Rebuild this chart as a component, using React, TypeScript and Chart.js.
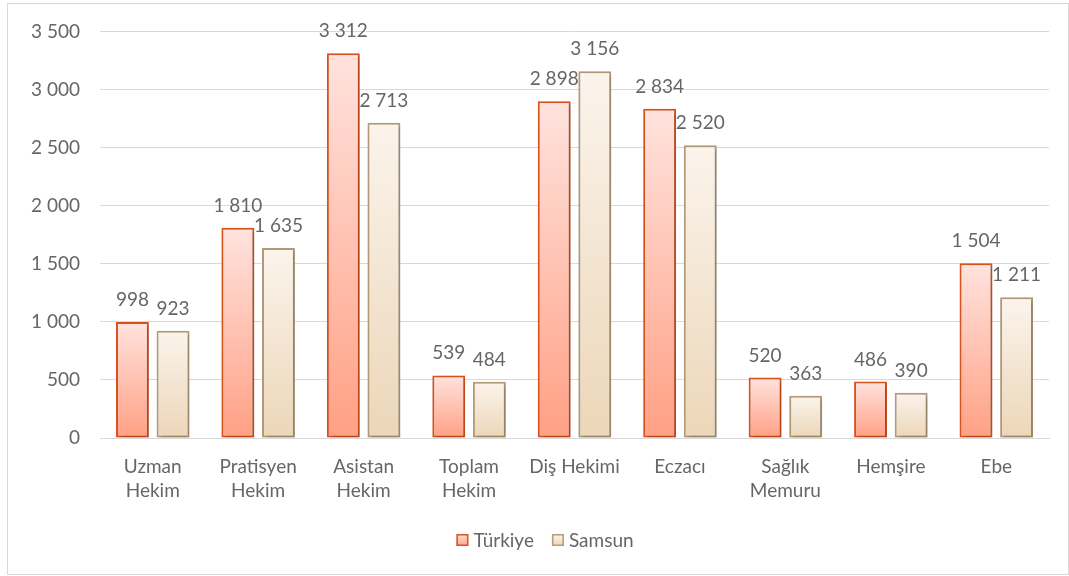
import React, { useEffect, useRef } from "react";
import { Chart, registerables } from "chart.js";

Chart.register(...registerables);

const categories: (string | string[])[] = [
  ["Uzman", "Hekim"],
  ["Pratisyen", "Hekim"],
  ["Asistan", "Hekim"],
  ["Toplam", "Hekim"],
  "Diş Hekimi",
  "Eczacı",
  ["Sağlık", "Memuru"],
  "Hemşire",
  "Ebe",
];
const turkiye = [998, 1810, 3312, 539, 2898, 2834, 520, 486, 1504];
const samsun = [923, 1635, 2713, 484, 3156, 2520, 363, 390, 1211];
const seriesNames = ["Türkiye", "Samsun"];
const yTicks = { min: 0, max: 3500, step: 500 };

const FONT = "Lato, 'Open Sans', sans-serif";
const TEXT = "#666666";
const GRID = "#D9D9D9";

const styles = [
  { top: "#FFE3DE", bottom: "#FFA084", border: "#D9531E" },
  { top: "#FBF4EC", bottom: "#ECD6B8", border: "#B49C7A" },
];

const fmt = (v: number) => String(v).replace(/\B(?=(\d{3})+(?!\d))/g, " ");

function barGradient(ctx: any, idx: number) {
  const chart = ctx.chart;
  const y = chart.scales?.y;
  const st = styles[idx];
  if (!y || ctx.parsed == null) return st.bottom;
  const top = y.getPixelForValue(ctx.parsed.y);
  const bot = y.getPixelForValue(0);
  if (!isFinite(top) || !isFinite(bot) || top === bot) return st.bottom;
  const g = chart.ctx.createLinearGradient(0, top, 0, bot);
  g.addColorStop(0, st.top);
  g.addColorStop(1, st.bottom);
  return g;
}

const frame = {
  id: "frame",
  beforeDraw(chart: any) {
    const c = chart.ctx;
    c.save();
    c.fillStyle = "#FFFFFF";
    c.fillRect(0, 0, chart.width, chart.height);
    c.strokeStyle = GRID;
    c.lineWidth = 1;
    c.strokeRect(7.5, 3.5, chart.width - 8, chart.height - 5);
    c.restore();
  },
};

const shadow = {
  id: "barShadow",
  beforeDatasetsDraw(chart: any) {
    const c = chart.ctx;
    c.save();
    c.shadowColor = "rgba(0,0,0,0.22)";
    c.shadowBlur = 4;
    c.shadowOffsetX = 2;
    c.shadowOffsetY = 2;
  },
  afterDatasetsDraw(chart: any) {
    chart.ctx.restore();
  },
};

const labels = {
  id: "valueLabels",
  afterDraw(chart: any) {
    const c = chart.ctx;
    c.save();
    c.font = `19px ${FONT}`;
    c.fillStyle = TEXT;
    c.textAlign = "center";
    c.textBaseline = "alphabetic";
    chart.data.datasets.forEach((ds: any, di: number) => {
      const meta = chart.getDatasetMeta(di);
      meta.data.forEach((el: any, i: number) => {
        c.fillText(fmt(ds.data[i]), el.x, el.y - 16);
      });
    });
    c.restore();
  },
};

const legend = {
  id: "customLegend",
  afterDraw(chart: any) {
    const c = chart.ctx;
    c.save();
    c.font = `19px ${FONT}`;
    c.textBaseline = "middle";
    c.textAlign = "left";
    const box = 12;
    const gapText = 5;
    const gapItem = 18;
    const widths = seriesNames.map((n) => c.measureText(n).width);
    const total =
      widths.reduce((a, w) => a + box + gapText + w, 0) + gapItem * (seriesNames.length - 1);
    let x = 545 - total / 2;
    const cy = 540;
    seriesNames.forEach((n, i) => {
      const st = styles[i];
      const g = c.createLinearGradient(0, cy - box / 2, 0, cy + box / 2);
      g.addColorStop(0, st.top);
      g.addColorStop(1, st.bottom);
      c.fillStyle = g;
      c.fillRect(x, cy - box / 2, box, box);
      c.strokeStyle = st.border;
      c.lineWidth = 1.5;
      c.strokeRect(x + 0.75, cy - box / 2 + 0.75, box - 1.5, box - 1.5);
      c.fillStyle = TEXT;
      c.fillText(n, x + box + gapText, cy + 1);
      x += box + gapText + widths[i] + gapItem;
    });
    c.restore();
  },
};

export default function App() {
  const ref = useRef<HTMLCanvasElement | null>(null);
  useEffect(() => {
    document.body.style.margin = "0";
    if (!ref.current) return;
    const chart = new Chart(ref.current, {
      type: "bar",
      data: {
        labels: categories,
        datasets: [
          {
            label: seriesNames[0],
            data: turkiye,
            backgroundColor: (ctx: any) => barGradient(ctx, 0),
            borderColor: styles[0].border,
            borderWidth: 2,
            borderSkipped: false,
          },
          {
            label: seriesNames[1],
            data: samsun,
            backgroundColor: (ctx: any) => barGradient(ctx, 1),
            borderColor: styles[1].border,
            borderWidth: 2,
            borderSkipped: false,
          },
        ],
      },
      options: {
        animation: false,
        responsive: false,
        maintainAspectRatio: false,
        devicePixelRatio: 1,
        layout: { padding: { left: 0, right: 20, top: 30, bottom: 0 } },
        datasets: {
          bar: { categoryPercentage: 0.77, barPercentage: 0.81 },
        },
        plugins: {
          legend: { display: false },
          tooltip: { enabled: false },
        },
        scales: {
          x: {
            grid: { display: false, drawTicks: false },
            border: { display: true, color: GRID, width: 1 },
            ticks: {
              color: TEXT,
              font: { family: FONT, size: 19, lineHeight: 1.25 },
              padding: 17,
              maxRotation: 0,
              autoSkip: false,
            },
            afterFit: (s: any) => {
              s.height = 138;
            },
          },
          y: {
            min: yTicks.min,
            max: yTicks.max,
            grid: { color: GRID, drawTicks: false, lineWidth: 1 },
            border: { display: false },
            ticks: {
              stepSize: yTicks.step,
              color: TEXT,
              font: { family: FONT, size: 19 },
              padding: 20,
              callback: (v: any) => fmt(Number(v)),
            },
            afterFit: (s: any) => {
              s.width = 100;
            },
          },
        },
      },
      plugins: [frame, shadow, labels, legend],
    });
    return () => chart.destroy();
  }, []);
  return (
    <div style={{ width: 1069, height: 576 }}>
      <canvas ref={ref} width={1069} height={576} style={{ display: "block" }} />
    </div>
  );
}
